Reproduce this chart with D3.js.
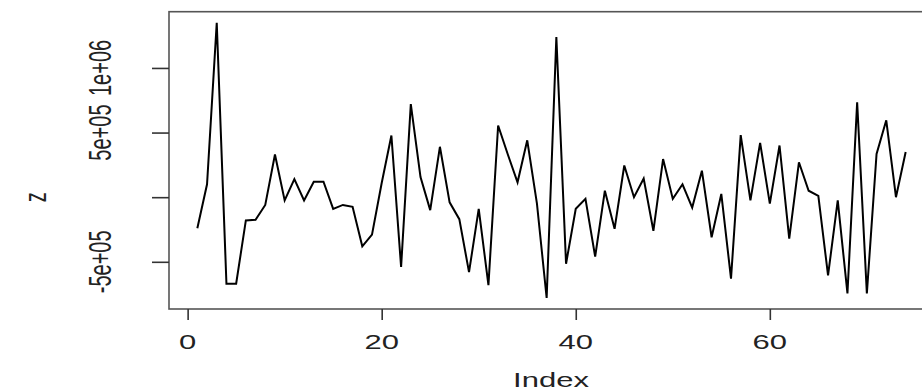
<!DOCTYPE html>
<html>
<head>
<meta charset="utf-8">
<script src="https://cdn.jsdelivr.net/npm/d3@7"></script>
<style>
  html, body { margin: 0; padding: 0; background: #fff; }
  svg { display: block; }
  text { font-family: "Liberation Sans", Arial, Helvetica, sans-serif; fill: #222; }
</style>
</head>
<body>
<svg id="chart" width="922" height="392"></svg>
<script>
// Series z, observed at Index 1..74
const zValues = [
  -2.4e5, 1.0e5, 13.5e5, -6.7e5, -6.7e5, -1.8e5, -1.75e5, -0.6e5, 3.3e5, -0.25e5,
  1.4e5, -0.25e5, 1.2e5, 1.2e5, -0.9e5, -0.6e5, -0.75e5, -3.8e5, -2.9e5, 1.1e5,
  4.77e5, -5.4e5, 7.2e5, 1.55e5, -1.0e5, 3.9e5, -0.4e5, -1.7e5, -5.8e5, -0.9e5,
  -6.8e5, 5.55e5, 3.3e5, 1.15e5, 4.4e5, -0.5e5, -7.8e5, 12.4e5, -5.15e5, -0.9e5,
  -0.13e5, -4.6e5, 0.5e5, -2.45e5, 2.45e5, 0, 1.45e5, -2.6e5, 2.95e5, -0.13e5,
  1.0e5, -0.8e5, 2.05e5, -3.1e5, 0.25e5, -6.3e5, 4.8e5, -0.25e5, 4.2e5, -0.5e5,
  4.0e5, -3.2e5, 2.7e5, 0.5e5, 0.1e5, -6.05e5, -0.25e5, -7.45e5, 7.35e5, -7.45e5,
  3.35e5, 5.95e5, 0, 3.5e5
];
const indexValues = zValues.map((_, i) => i + 1);

const xTicks = [0, 20, 40, 60];
const xTickLabels = ["0", "20", "40", "60"];
const yTicks = [-5e5, 0, 5e5, 1e6];
const yTickLabels = ["-5e+05", "", "5e+05", "1e+06"];
const xTitle = "Index";
const yTitle = "z";

const svg = d3.select("#chart");

// plot region
const plotLeft = 169, plotRight = 934, plotTop = 11.7, plotBottom = 309;
const pad = 0.04;

const [xmin, xmax] = d3.extent(indexValues);
const [ymin, ymax] = d3.extent(zValues);
const xs = d3.scaleLinear()
  .domain([xmin - pad * (xmax - xmin), xmax + pad * (xmax - xmin)])
  .range([plotLeft, plotRight]);
const ys = d3.scaleLinear()
  .domain([ymin - pad * (ymax - ymin), ymax + pad * (ymax - ymin)])
  .range([plotBottom, plotTop]);

// frame
svg.append("rect")
  .attr("x", plotLeft).attr("y", plotTop)
  .attr("width", plotRight - plotLeft).attr("height", plotBottom - plotTop)
  .attr("fill", "none").attr("stroke", "#555").attr("stroke-width", 1.6);

// axes (tick marks only; labels drawn separately with the stretched type)
const xAxis = svg.append("g")
  .attr("transform", `translate(0,${plotBottom})`)
  .call(d3.axisBottom(xs).tickValues(xTicks).tickSize(11).tickFormat(""));
const yAxis = svg.append("g")
  .attr("transform", `translate(${plotLeft},0)`)
  .call(d3.axisLeft(ys).tickValues(yTicks).tickSize(17).tickFormat(""));
[xAxis, yAxis].forEach(g => {
  g.select(".domain").remove();
  g.selectAll(".tick line").attr("stroke", "#333").attr("stroke-width", 1.6);
});

const fs = 20, sx = 1.55;

svg.append("g").selectAll("text")
  .data(xTicks)
  .join("text")
  .attr("transform", d => `translate(${xs(d)},349) scale(${sx},1)`)
  .attr("text-anchor", "middle")
  .attr("font-size", fs)
  .text((d, i) => xTickLabels[i]);

svg.append("g").selectAll("text")
  .data(yTicks)
  .join("text")
  .attr("transform", d => `translate(111,${ys(d)}) scale(${sx},1) rotate(-90)`)
  .attr("text-anchor", "middle")
  .attr("font-size", fs)
  .text((d, i) => yTickLabels[i]);

svg.append("text")
  .attr("transform", `translate(551,387) scale(${sx},1)`)
  .attr("text-anchor", "middle")
  .attr("font-size", fs)
  .text(xTitle);

svg.append("text")
  .attr("transform", `translate(46,${ys(0)}) scale(${sx},1) rotate(-90)`)
  .attr("text-anchor", "middle")
  .attr("font-size", fs)
  .text(yTitle);

// series line
const line = d3.line()
  .x((d, i) => xs(indexValues[i]))
  .y(d => ys(d));

svg.append("path")
  .datum(zValues)
  .attr("d", line)
  .attr("fill", "none")
  .attr("stroke", "#000")
  .attr("stroke-width", 2)
  .attr("stroke-linejoin", "miter")
  .attr("stroke-miterlimit", 4);
</script>
</body>
</html>
